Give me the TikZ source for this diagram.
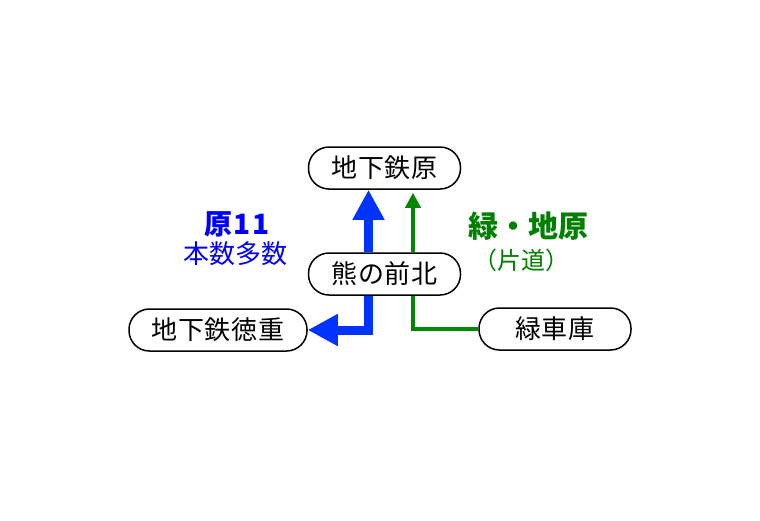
\documentclass[tikz,border=0pt]{standalone}
\usepackage{fontspec}
\newfontfamily\jp{Noto Sans CJK JP}
\newfontfamily\jpbox[LetterSpace=3]{Noto Sans CJK JP}
\newfontfamily\jpwide[LetterSpace=6]{Noto Sans CJK JP}
\usetikzlibrary{arrows.meta}
\definecolor{arrowblue}{RGB}{0,51,255}
\definecolor{textblue}{RGB}{0,0,255}
\definecolor{linegreen}{RGB}{0,136,0}
\definecolor{textgreen}{RGB}{0,128,0}
\tikzset{
  station/.style={draw=black, line width=1.5pt, rounded corners=20.5pt, minimum height=42pt,
    minimum width=152pt, inner sep=0pt, font=\jpbox\fontsize{26}{26}\selectfont},
  bluearrow/.style={draw=arrowblue, line width=9pt, line join=miter,
    -{Triangle[width=30pt,length=30pt]}, arrowblue},
  greenarrow/.style={draw=linegreen, line width=4.5pt, line join=miter,
    -{Triangle[width=15pt,length=15pt]}, linegreen},
  greenline/.style={draw=linegreen, line width=4.5pt, line join=miter}
}
\begin{document}
\begin{tikzpicture}[x=1pt,y=-1pt]
\useasboundingbox[fill=white] (0,0) rectangle (760,520);
\node[station] (hara) at (384.5,168) {地下鉄原};
\node[station] (kuma) at (384.5,274) {熊の前北};
\node[station, minimum width=178pt] (toku) at (218,330) {地下鉄徳重};
\node[station] (shako) at (555,329) {緑車庫};

\draw[bluearrow] ([xshift=-16pt]kuma.north) -- ([xshift=-16pt]hara.south);
\draw[bluearrow] ([xshift=-16pt]kuma.south) |- (toku.east);
\draw[greenarrow, shorten >=3pt] ([xshift=28.5pt]kuma.north) -- ([xshift=28.5pt]hara.south);
\draw[greenline] ([xshift=28.5pt]kuma.south) |- (shako.west);

\node[text=textblue, font=\jpwide\bfseries\fontsize{28}{28}\selectfont] (l1) at (237,224) {原11};
\node[text=textblue, font=\jp\fontsize{26}{26}\selectfont] (l2) at (235,254) {本数多数};
\node[text=textgreen, font=\jp\bfseries\fontsize{30}{30}\selectfont] (l3) at (528,226) {緑・地原};
\node[text=textgreen, font=\jp\fontsize{24}{24}\selectfont] (l4) at (521,260) {（片道）};
\end{tikzpicture}
\end{document}
